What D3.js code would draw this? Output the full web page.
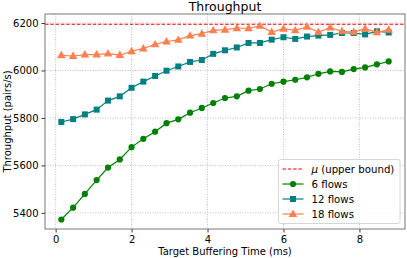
<!DOCTYPE html>
<html>
<head>
<meta charset="utf-8">
<script src="https://cdn.jsdelivr.net/npm/d3@7"></script>
<style>
  body { margin: 0; background: #fff; }
  text { font-family: "DejaVu Sans", sans-serif; fill: #000; }
</style>
</head>
<body>
<script>
const w = 407;
const h = 258;
const m = { left: 45, right: 405, top: 14, bottom: 229 };

// target buffering time (ms)
const bufTime = [0.15, 0.46, 0.77, 1.08, 1.38, 1.69, 2.00, 2.31, 2.62, 2.92,
  3.23, 3.54, 3.85, 4.15, 4.46, 4.77, 5.08, 5.38, 5.69, 6.00,
  6.31, 6.62, 6.92, 7.23, 7.54, 7.85, 8.15, 8.46, 8.77];

const flows6 = [5372, 5422, 5480, 5538, 5591, 5625, 5677, 5712, 5742, 5778,
  5794, 5822, 5842, 5863, 5884, 5891, 5915, 5922, 5944, 5953,
  5961, 5971, 5986, 5996, 5994, 6006, 6013, 6026, 6038];
const flows12 = [5783, 5795, 5815, 5835, 5873, 5891, 5927, 5953, 5977, 5999,
  6017, 6036, 6044, 6070, 6085, 6097, 6116, 6116, 6130, 6140,
  6133, 6143, 6147, 6150, 6158, 6158, 6152, 6165, 6160];
const flows18 = [6064, 6061, 6067, 6067, 6071, 6065, 6081, 6093, 6110, 6122,
  6129, 6147, 6155, 6169, 6172, 6178, 6178, 6188, 6162, 6176,
  6169, 6184, 6162, 6181, 6165, 6162, 6176, 6161, 6172];
const mu = 6195;

const xTicks = [0, 2, 4, 6, 8];
const yTicks = [5400, 5600, 5800, 6000, 6200];

const series = [
  { name: "6 flows", values: flows6, color: "green", marker: "circle" },
  { name: "12 flows", values: flows12, color: "teal", marker: "square" },
  { name: "18 flows", values: flows18, color: "coral", marker: "triangle" }
];

const x = d3.scaleLinear().domain([-0.28, 9.2]).range([m.left, m.right]);
const y = d3.scaleLinear().domain([5332, 6238]).range([m.bottom, m.top]);

const svg = d3.select("body").append("svg")
  .attr("width", w)
  .attr("height", h);

// grid
svg.append("g")
  .selectAll("line")
  .data(xTicks)
  .enter().append("line")
  .attr("x1", d => x(d)).attr("x2", d => x(d))
  .attr("y1", m.top).attr("y2", m.bottom)
  .attr("stroke", "#b0b0b0").attr("stroke-width", 0.8)
  .attr("stroke-dasharray", "1,1.5");
svg.append("g")
  .selectAll("line")
  .data(yTicks)
  .enter().append("line")
  .attr("x1", m.left).attr("x2", m.right)
  .attr("y1", d => y(d)).attr("y2", d => y(d))
  .attr("stroke", "#b0b0b0").attr("stroke-width", 0.8)
  .attr("stroke-dasharray", "1,1.5");

// axes
const xAxis = svg.append("g")
  .attr("transform", `translate(0,${m.bottom})`)
  .call(d3.axisBottom(x).tickValues(xTicks).tickFormat(d3.format("d")).tickSize(3.5).tickPadding(3));
const yAxis = svg.append("g")
  .attr("transform", `translate(${m.left},0)`)
  .call(d3.axisLeft(y).tickValues(yTicks).tickFormat(d3.format("d")).tickSize(3.5).tickPadding(3));
[xAxis, yAxis].forEach(a => {
  a.select(".domain").remove();
  a.selectAll("text").style("font-family", "DejaVu Sans").style("font-size", "10px").attr("fill", "#000");
  a.selectAll("line").attr("stroke", "#000").attr("stroke-width", 0.8);
});

// mu line
svg.append("line")
  .attr("x1", m.left).attr("x2", m.right)
  .attr("y1", y(mu)).attr("y2", y(mu))
  .attr("stroke", "#ff0000").attr("stroke-width", 1.1)
  .attr("stroke-dasharray", "3.5,1.8");

const line = d3.line()
  .x((d, i) => x(bufTime[i]))
  .y(d => y(d));

function drawMarker(g, type, color, cx, cy) {
  if (type === "circle") {
    g.append("circle").attr("cx", cx).attr("cy", cy).attr("r", 3.1).attr("fill", color);
  } else if (type === "square") {
    g.append("rect").attr("x", cx - 3).attr("y", cy - 3)
      .attr("width", 6).attr("height", 6).attr("fill", color);
  } else {
    g.append("path")
      .attr("d", d3.symbol().type(d3.symbolTriangle).size(32)())
      .attr("transform", `translate(${cx},${cy + 0.5})`)
      .attr("fill", color);
  }
}

series.forEach(s => {
  const g = svg.append("g");
  g.append("path")
    .datum(s.values)
    .attr("d", line)
    .attr("fill", "none")
    .attr("stroke", s.color)
    .attr("stroke-width", 1.2);
  s.values.forEach((v, i) => drawMarker(g, s.marker, s.color, x(bufTime[i]), y(v)));
});

// frame
svg.append("rect")
  .attr("x", m.left).attr("y", m.top)
  .attr("width", m.right - m.left).attr("height", m.bottom - m.top)
  .attr("fill", "none").attr("stroke", "#555").attr("stroke-width", 0.8);

// title and labels
svg.append("text")
  .attr("x", (m.left + m.right) / 2).attr("y", 11)
  .attr("text-anchor", "middle")
  .style("font-size", "12.5px")
  .text("Throughput");
svg.append("text")
  .attr("x", (m.left + m.right) / 2).attr("y", 255)
  .attr("text-anchor", "middle")
  .style("font-size", "10px")
  .text("Target Buffering Time (ms)");
svg.append("text")
  .attr("transform", `translate(11,${(m.top + m.bottom) / 2}) rotate(-90)`)
  .attr("text-anchor", "middle")
  .style("font-size", "10px")
  .text("Throughput (pairs/s)");

// legend
const lg = svg.append("g");
lg.append("rect")
  .attr("x", 278.5).attr("y", 159.5)
  .attr("width", 121.5).attr("height", 64)
  .attr("rx", 2)
  .attr("fill", "#fff").attr("fill-opacity", 0.8)
  .attr("stroke", "#ccc").attr("stroke-width", 0.8);

const legendItems = [{ name: "upper bound", color: "#ff0000", marker: null }].concat(series);
legendItems.forEach((s, i) => {
  const cy = 169 + i * 15;
  const row = lg.append("g");
  row.append("line")
    .attr("x1", 282.5).attr("x2", 303.5)
    .attr("y1", cy).attr("y2", cy)
    .attr("stroke", s.color)
    .attr("stroke-width", s.marker ? 1.2 : 1.2)
    .attr("stroke-dasharray", s.marker ? null : "3.5,1.8");
  if (s.marker) drawMarker(row, s.marker, s.color, 293, cy);
  const t = row.append("text")
    .attr("x", 311.5).attr("y", cy + 3.6)
    .style("font-size", "10.2px");
  if (!s.marker) {
    t.append("tspan").style("font-style", "italic").text("\u03bc");
    t.append("tspan").text(" (upper bound)");
  } else {
    t.text(s.name);
  }
});
</script>
</body>
</html>
